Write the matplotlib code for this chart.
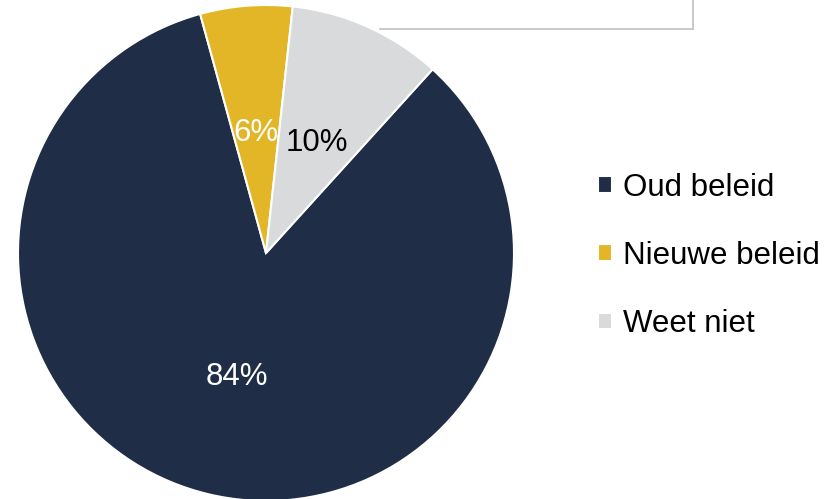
import matplotlib.pyplot as plt
from matplotlib.lines import Line2D

plt.rcParams['font.family'] = ['Liberation Sans', 'DejaVu Sans']

categories = ['Oud beleid', 'Nieuwe beleid', 'Weet niet']
shares = [84, 6, 10]
colors = ['#202d47', '#e2b626', '#d9dadc']
label_colors = ['white', 'white', 'black']

fig = plt.figure(figsize=(8.28, 4.99), dpi=100)

# grey frame corner peeking in at the top
frame_kw = dict(transform=fig.transFigure, color='#c0c0c0', lw=1.2, zorder=-1)
fig.add_artist(Line2D([380 / 828, 693 / 828], [470 / 499, 470 / 499], **frame_kw))
fig.add_artist(Line2D([693 / 828, 693 / 828], [470 / 499, 1.0], **frame_kw))

ax = fig.add_axes([18 / 828, -2 / 499, 496 / 828, 496 / 499])
wedges, texts, autotexts = ax.pie(
    shares, colors=colors, startangle=47.8, counterclock=False,
    autopct='%d%%', pctdistance=0.5, radius=1,
    wedgeprops=dict(edgecolor='white', linewidth=1.5),
    textprops=dict(fontsize=22.5),
)
for t, c in zip(autotexts, label_colors):
    t.set_color(c)
    t.set_verticalalignment('center_baseline')
ax.set_xlim(-1, 1)
ax.set_ylim(-1, 1)
ax.set_aspect('equal')
ax.axis('off')

fig.legend(wedges, categories, loc='center left',
           bbox_to_anchor=(598 / 828, 243 / 499), frameon=False,
           fontsize=22.5, handlelength=0.45, handleheight=0.45,
           handletextpad=0.35, labelspacing=1.22, borderpad=0,
           borderaxespad=0)

fig.savefig('out.png', dpi=100)
